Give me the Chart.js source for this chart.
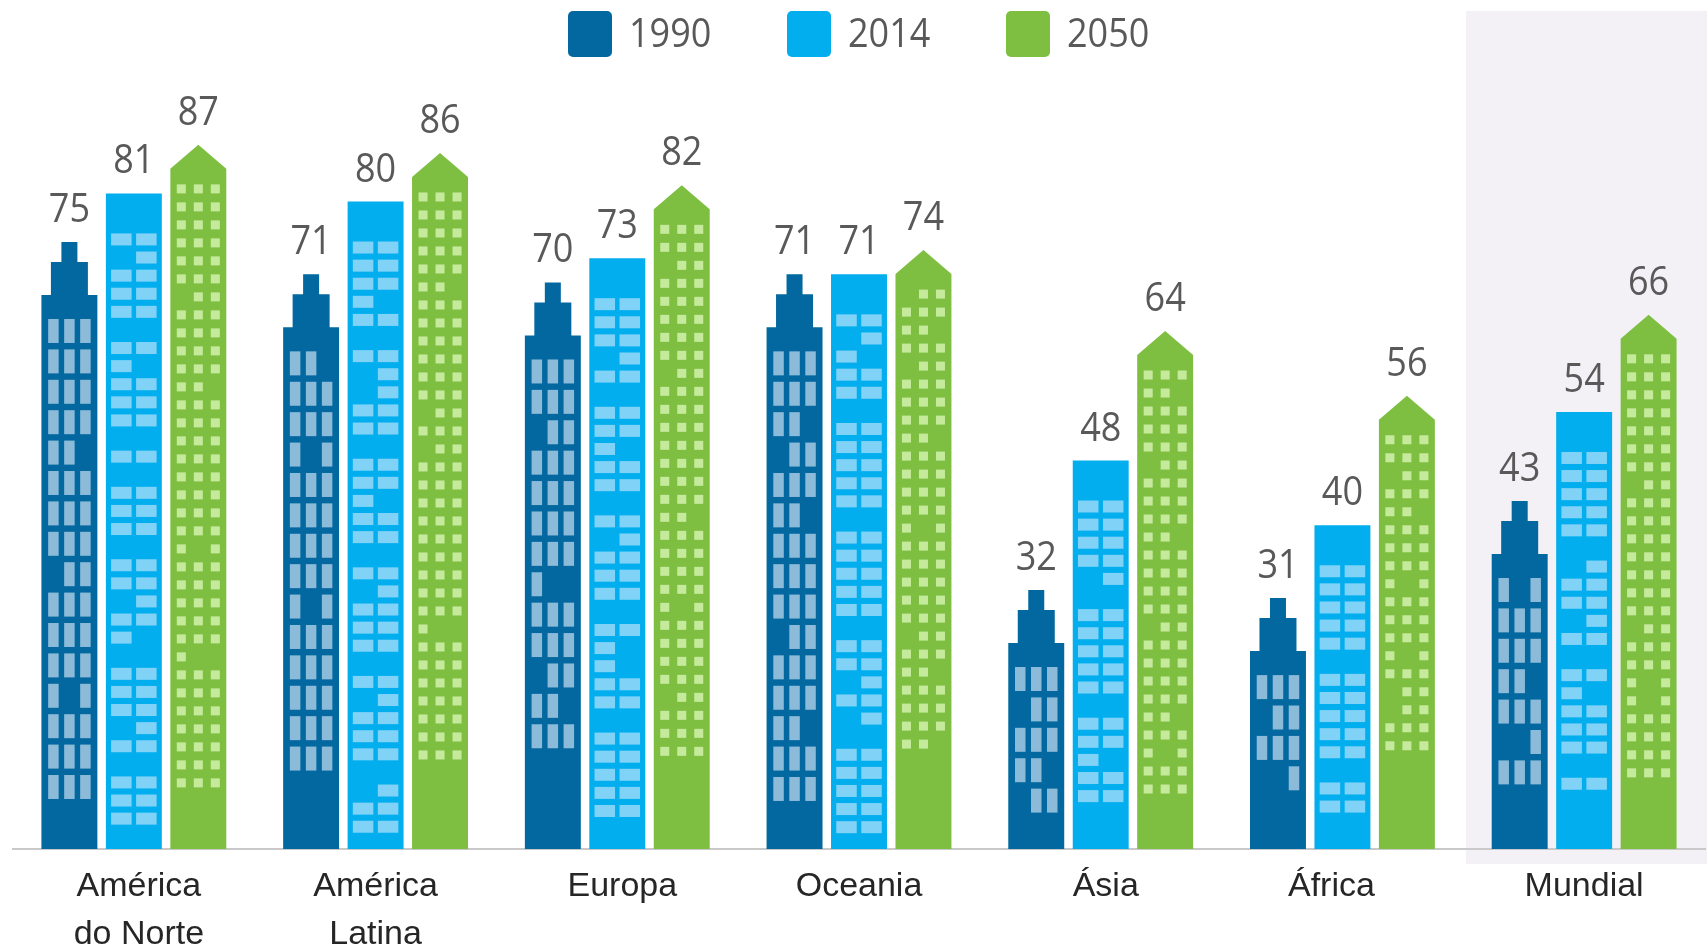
<!DOCTYPE html>
<html lang="pt">
<head>
<meta charset="utf-8">
<title>População urbana</title>
<script src="https://cdn.jsdelivr.net/npm/chart.js@4/dist/chart.umd.min.js"></script>
<style>
  html, body { margin: 0; padding: 0; background: #fff; }
  #wrap { position: relative; width: 1707px; height: 952px; overflow: hidden; }
  #chart { display: block; }
  #legend { position: absolute; top: 11px; left: 568px; display: flex; font: 40px "Open Sans", sans-serif; color: #595959; }
  #legend div { display: flex; align-items: center; margin-right: 76px; height: 46px; }
  #legend i { display: block; width: 44px; height: 46px; border-radius: 5px; margin-right: 17px; }
  #legend span { display: block; width: 82px; transform: translateY(-3px) scaleX(0.9); transform-origin: left; }
</style>
</head>
<body>
<div id="wrap">
  <canvas id="chart" width="1707" height="952"></canvas>
  <div id="legend"></div>
</div>
<script>
const categories = [["América", "do Norte"], ["América", "Latina"], "Europa", "Oceania", "Ásia", "África", "Mundial"];
const values1990 = [75, 71, 70, 71, 32, 31, 43];
const values2014 = [81, 80, 73, 71, 48, 40, 54];
const values2050 = [87, 86, 82, 74, 64, 56, 66];

// lit windows per floor, top floor first (1 = lit)
const windows1990 = [
  "111 111 111 111 110 111 111 111 011 111 111 111 101 111 111 111",
  "110 111 111 101 111 111 111 111 101 111 111 111 111 111",
  "111 111 011 111 111 111 111 100 111 111 011 110 111",
  "111 111 110 011 111 110 111 111 111 011 111 111 110 111 111",
  "111 011 111 110 011",
  "111 011 111 001",
  "101 111 111 110 111 001 111",
];
const windows2014 = [
  "11 01 11 11 11 00 11 10 11 11 11 00 11 00 11 11 11 00 11 11 01 11 10 00 11 11 11 01 11 00 11 11 11",
  "11 11 11 10 11 00 11 01 01 11 11 00 11 11 10 11 11 00 11 01 11 11 11 00 11 01 11 11 11 00 01 11 11",
  "11 11 11 01 11 00 11 11 10 11 11 00 11 01 11 11 11 00 11 10 10 11 11 00 11 11 11 11 11",
  "11 01 10 11 11 00 11 11 11 11 11 00 11 11 11 11 11 00 11 11 01 11 01 00 11 11 11 11 11",
  "11 11 11 11 01 00 11 11 11 11 11 00 11 11 10 11 11",
  "11 11 11 11 11 00 11 11 11 11 11 00 11 11",
  "11 11 11 11 11 00 01 11 11 01 11 00 11 10 11 11 11 00 11",
];
const windows2050 = [
  "111 111 111 111 111 111 011 111 111 111 111 110 111 111 111 111 111 111 111 111 101 111 111 111 111 111 100 111 111 111 111 111 111 111",
  "111 111 111 111 111 110 111 111 111 111 111 111 011 111 011 111 111 111 111 111 111 111 111 111 100 111 111 111 111 111 111 111",
  "111 111 011 111 111 111 111 111 011 111 111 111 111 111 111 111 110 111 111 111 111 101 111 111 111 111 011 111 111 111",
  "011 111 110 111 011 111 111 111 110 111 111 111 111 101 111 111 111 111 111 011 111 110 111 111 111 110",
  "111 110 111 111 111 011 111 111 111 110 111 111 111 111 011 111 111 111 111 110 111 101 111 111",
  "111 111 011 111 110 111 111 111 101 111 111 111 101 111 011 011 111 111",
  "111 111 111 111 111 111 111 011 111 111 111 111 111 111 111 011 111 111 101 101 111 111 111 111",
];

const COLORS = {
  dark: "#02689f",
  darkWindow: "#8cbad9",
  blue: "#03aeee",
  blueWindow: "#80d3f7",
  green: "#7ebf42",
  greenWindow: "#c6ea9c",
  label: "#595959",
  axis: "#c9c9c9",
  band: "#f3f0f6",
};

// the category labels do not sit exactly under their groups in the original
const LABEL_NUDGE = [5, 0, 5, 0, 5, -11, 0];

function roofPath(ctx, kind, x, y, base, half) {
  ctx.beginPath();
  if (kind === "stepped") {
    ctx.moveTo(x - half, base);
    ctx.lineTo(x - half, y + 53);
    ctx.lineTo(x - 18.5, y + 53);
    ctx.lineTo(x - 18.5, y + 20);
    ctx.lineTo(x - 8, y + 20);
    ctx.lineTo(x - 8, y);
    ctx.lineTo(x + 8, y);
    ctx.lineTo(x + 8, y + 20);
    ctx.lineTo(x + 18.5, y + 20);
    ctx.lineTo(x + 18.5, y + 53);
    ctx.lineTo(x + half, y + 53);
    ctx.lineTo(x + half, base);
  } else if (kind === "gable") {
    ctx.moveTo(x - half, base);
    ctx.lineTo(x - half, y + 24);
    ctx.lineTo(x, y);
    ctx.lineTo(x + half, y + 24);
    ctx.lineTo(x + half, base);
  } else {
    ctx.rect(x - half, y, half * 2, base - y);
  }
  ctx.closePath();
  ctx.fill();
}

// bar element drawn as a small building, still sized by the value scale
class BuildingElement extends Chart.BarElement {
  static id = "building";

  draw(ctx) {
    const { x, y, base, width } = this.getProps(["x", "y", "base", "width"]);
    const dataset = this.building;
    const win = dataset.windowStyle;
    ctx.save();
    ctx.fillStyle = dataset.backgroundColor;
    roofPath(ctx, dataset.roof, x, y, base, width / 2);
    ctx.fillStyle = win.color;
    dataset.windows[this.buildingIndex].split(" ").forEach((floor, f) => {
      [...floor].forEach((lit, c) => {
        if (lit !== "1") return;
        ctx.fillRect(x + win.cols[c] - win.w / 2, y + win.top + f * win.pitch, win.w, win.h);
      });
    });
    ctx.restore();
  }
}

class BuildingController extends Chart.BarController {
  static id = "building";
  static defaults = { ...Chart.BarController.defaults, dataElementType: "building" };

  updateElements(bars, start, count, mode) {
    super.updateElements(bars, start, count, mode);
    for (let i = start; i < start + count; i++) {
      bars[i].building = this.getDataset();
      bars[i].buildingIndex = i;
    }
  }
}

Chart.register(BuildingElement, BuildingController);

const mundialBand = {
  id: "mundialBand",
  beforeDraw(chart) {
    const { ctx, scales: { x, y } } = chart;
    const left = x.getPixelForValue(categories.length - 1) - 118;
    ctx.save();
    ctx.fillStyle = COLORS.band;
    ctx.fillRect(left, 11, chart.width - left, y.bottom + 15 - 11);
    ctx.restore();

    x.getLabelItems().forEach((item, i) => {
      if (item.nudged) return;
      item.options.translation[0] += LABEL_NUDGE[i];
      item.nudged = true;
    });
  },
};

const valueLabels = {
  id: "valueLabels",
  afterDatasetsDraw(chart) {
    const { ctx } = chart;
    ctx.save();
    ctx.fillStyle = COLORS.label;
    ctx.font = "40px 'Open Sans', sans-serif";
    ctx.textAlign = "center";
    ctx.textBaseline = "alphabetic";
    chart.data.datasets.forEach((ds, i) => {
      chart.getDatasetMeta(i).data.forEach((bar, j) => {
        ctx.save();
        ctx.translate(bar.x, bar.y - 20);
        ctx.scale(0.9, 1);
        ctx.fillText(ds.data[j], 0, 0);
        ctx.restore();
      });
    });
    ctx.restore();
  },
};

const datasets = [
  {
    label: "1990",
    data: values1990,
    backgroundColor: COLORS.dark,
    roof: "stepped",
    windows: windows1990,
    windowStyle: { color: COLORS.darkWindow, cols: [-16, 0, 16], w: 10.5, h: 24, top: 77, pitch: 30.4 },
  },
  {
    label: "2014",
    data: values2014,
    backgroundColor: COLORS.blue,
    roof: "flat",
    windows: windows2014,
    windowStyle: { color: COLORS.blueWindow, cols: [-12.5, 12.5], w: 20.5, h: 12, top: 40, pitch: 18.1 },
  },
  {
    label: "2050",
    data: values2050,
    backgroundColor: COLORS.green,
    roof: "gable",
    windows: windows2050,
    windowStyle: { color: COLORS.greenWindow, cols: [-17, 0, 17], w: 9, h: 9, top: 39.5, pitch: 18 },
  },
];

new Chart(document.getElementById("chart"), {
  type: "building",
  data: { labels: categories, datasets },
  plugins: [mundialBand, valueLabels],
  options: {
    responsive: false,
    animation: false,
    layout: { padding: { left: 13, right: 2 } },
    categoryPercentage: 0.8,
    barPercentage: 0.868,
    plugins: { legend: { display: false }, tooltip: { enabled: false } },
    scales: {
      x: {
        grid: { display: false },
        border: { color: COLORS.axis, width: 2 },
        afterFit: (scale) => { scale.height = 103; },
        ticks: {
          color: "#262626",
          maxRotation: 0,
          autoSkip: false,
          padding: 6,
          font: { family: "'Liberation Sans', sans-serif", size: 34, lineHeight: 1.41 },
        },
      },
      y: { display: false, min: 0, max: 104.9 },
    },
  },
});

const legend = document.getElementById("legend");
datasets.forEach((ds) => {
  const item = document.createElement("div");
  const box = document.createElement("i");
  const text = document.createElement("span");
  box.style.background = ds.backgroundColor;
  text.textContent = ds.label;
  item.append(box, text);
  legend.append(item);
});
</script>
</body>
</html>
